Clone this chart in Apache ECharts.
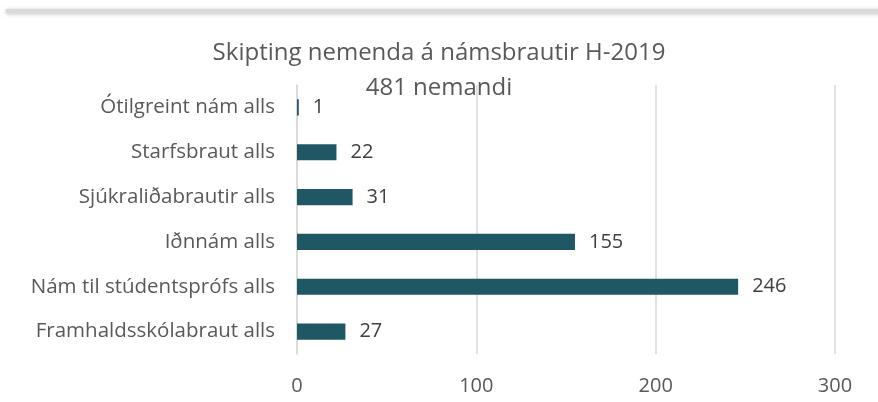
<!DOCTYPE html>
<html><head><meta charset="utf-8">
<script src="https://cdn.jsdelivr.net/npm/echarts@6/dist/echarts.min.js"></script>
<style>html,body{margin:0;padding:0;background:#fff}#c{width:878px;height:402px}</style>
</head><body><div id="c"></div>
<script>
const categories = ['Framhaldsskólabraut alls','Nám til stúdentsprófs alls','Iðnnám alls','Sjúkraliðabrautir alls','Starfsbraut alls','Ótilgreint nám alls'];
const values = [27, 246, 155, 31, 22, 1];
const xTicks = [0, 100, 200, 300];
const titleLines = ['Skipting nemenda á námsbrautir H-2019', '481 nemandi'];

const chart = echarts.init(document.getElementById('c'), null, {renderer:'canvas'});
const font = '"Open Sans", sans-serif';
chart.setOption({
  animation:false,
  backgroundColor:'#fff',
  graphic:[{
    type:'rect', shape:{x:6,y:9,width:880,height:4},
    style:{fill:'#d9d9d9', shadowBlur:4, shadowColor:'rgba(0,0,0,0.25)', shadowOffsetY:1}, z:-1
  }],
  title:{
    text: titleLines.join('\n'), left:'center', top:31,
    textStyle:{fontFamily:font, fontSize:24, fontWeight:'normal', color:'#595959', lineHeight:35}
  },
  grid:{left:297, right:43, top:85, bottom:48, containLabel:false},
  xAxis:{
    type:'value', min:xTicks[0], max:xTicks[xTicks.length-1], interval:100,
    axisLine:{show:false}, axisTick:{show:false},
    splitLine:{lineStyle:{color:'#d9d9d9', width:1.5}},
    axisLabel:{fontFamily:font, fontSize:20, color:'#595959', margin:22}
  },
  yAxis:{
    type:'category', data:categories,
    axisLine:{show:true, lineStyle:{color:'#d9d9d9', width:1.5}}, axisTick:{show:false},
    axisLabel:{fontFamily:font, fontSize:20.5, color:'#595959', margin:22}
  },
  series:[{
    type:'bar', data:values, barWidth:'36%',
    itemStyle:{color:'#1f5864'},
    label:{show:true, position:'right', distance:14, fontFamily:font, fontSize:20, color:'#404040'}
  }]
});
</script></body></html>
